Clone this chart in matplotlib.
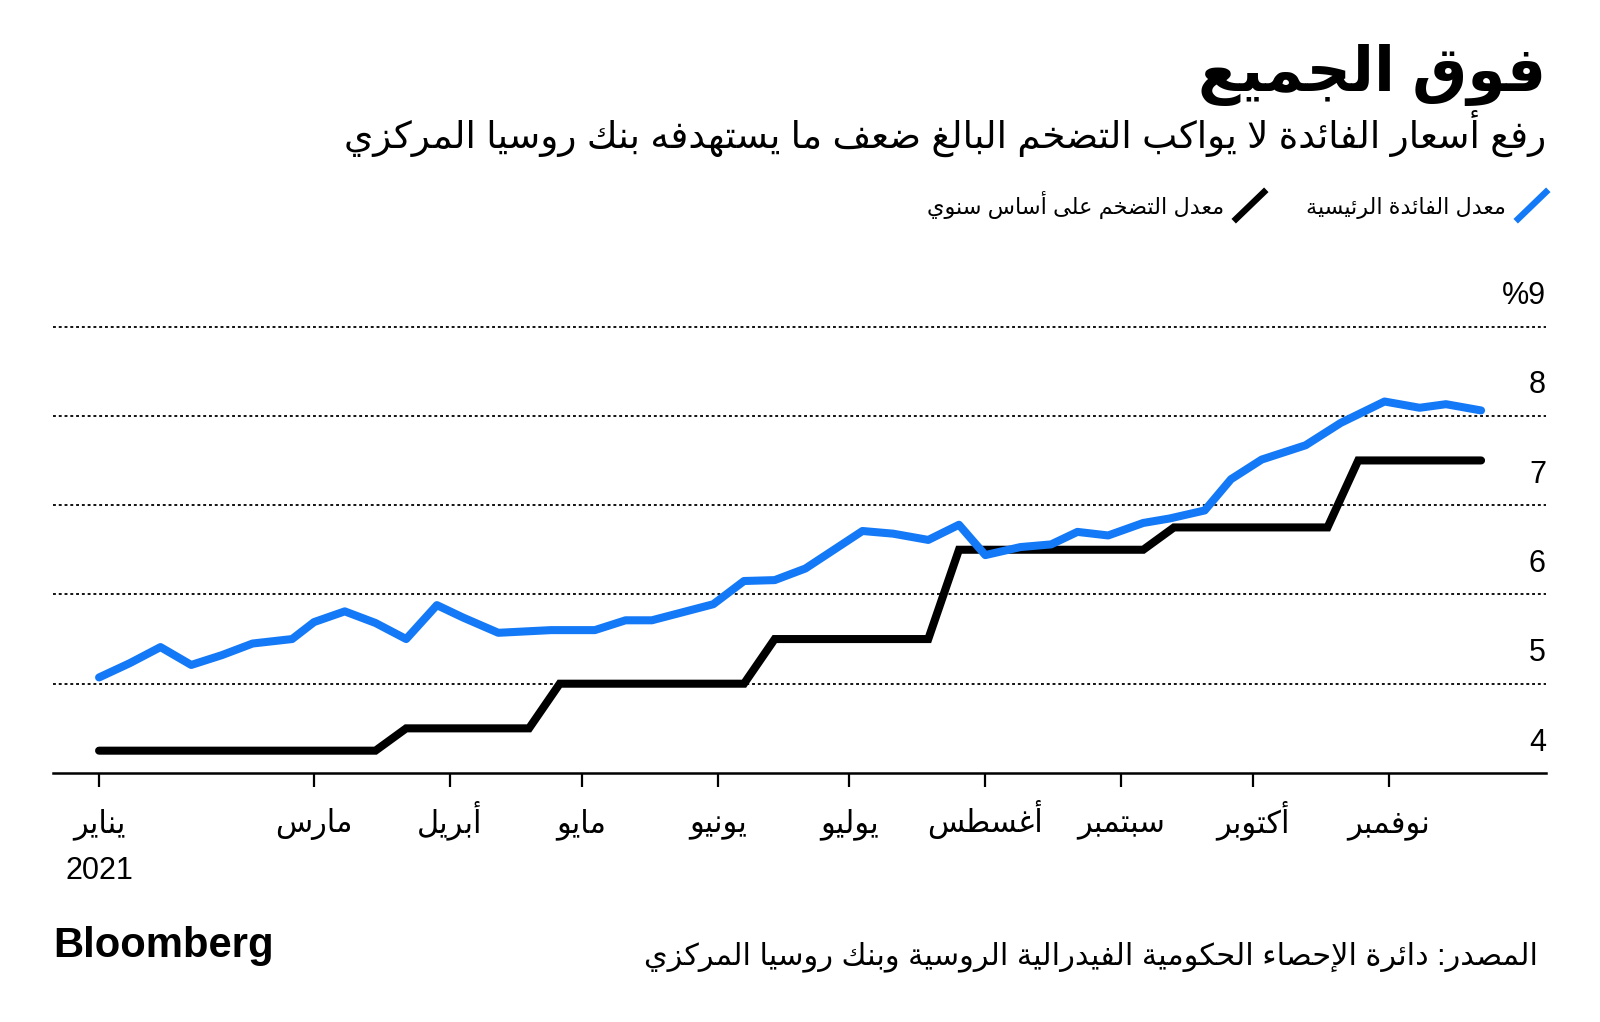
import pandas as pd
import matplotlib
matplotlib.use('Agg')
import matplotlib.pyplot as plt
import matplotlib.dates as mdates
from matplotlib.lines import Line2D

# blue line (legend: key rate), irregular weekly readings
key_rate_dates = ['2021-01-11', '2021-01-18', '2021-01-25', '2021-02-01', '2021-02-08', '2021-02-15',
                  '2021-02-24', '2021-03-01', '2021-03-08', '2021-03-15', '2021-03-22', '2021-03-29',
                  '2021-04-04', '2021-04-12', '2021-04-24', '2021-05-04', '2021-05-11', '2021-05-17',
                  '2021-05-31', '2021-06-07', '2021-06-14', '2021-06-21', '2021-07-04', '2021-07-11',
                  '2021-07-19', '2021-07-26', '2021-08-01', '2021-08-09', '2021-08-16', '2021-08-22',
                  '2021-08-29', '2021-09-06', '2021-09-12', '2021-09-20', '2021-09-26', '2021-10-03',
                  '2021-10-13', '2021-10-21', '2021-10-31', '2021-11-08', '2021-11-14', '2021-11-22']
key_rate_values = [5.07, 5.23, 5.41, 5.21, 5.32, 5.45, 5.50, 5.69, 5.81, 5.68, 5.50, 5.88,
                   5.74, 5.57, 5.60, 5.60, 5.71, 5.71, 5.89, 6.15, 6.16, 6.29, 6.71, 6.68,
                   6.61, 6.78, 6.44, 6.53, 6.56, 6.70, 6.66, 6.80, 6.85, 6.94, 7.29, 7.51,
                   7.67, 7.92, 8.16, 8.09, 8.13, 8.06]

# black line (legend: yoy inflation), weekly from 11 Jan
inflation_start = '2021-01-11'
inflation_values = [4.25, 4.25, 4.25, 4.25, 4.25, 4.25, 4.25, 4.25, 4.25, 4.25,
                    4.5, 4.5, 4.5, 4.5, 4.5,
                    5.0, 5.0, 5.0, 5.0, 5.0, 5.0, 5.0,
                    5.5, 5.5, 5.5, 5.5, 5.5, 5.5,
                    6.5, 6.5, 6.5, 6.5, 6.5, 6.5, 6.5,
                    6.75, 6.75, 6.75, 6.75, 6.75, 6.75,
                    7.5, 7.5, 7.5, 7.5, 7.5]

y_ticks = [4, 5, 6, 7, 8, 9]
y_labels = ['4', '5', '6', '7', '8', '%9']
x_tick_dates = ['2021-01-11', '2021-03-01', '2021-04-01', '2021-05-01', '2021-06-01',
                '2021-07-01', '2021-08-01', '2021-09-01', '2021-10-01', '2021-11-01']
x_tick_names = ['يناير', 'مارس', 'أبريل', 'مايو', 'يونيو', 'يوليو', 'أغسطس', 'سبتمبر', 'أكتوبر', 'نوفمبر']
first_year = '2021'

title = 'فوق الجميع'
subtitle = 'رفع أسعار الفائدة لا يواكب التضخم البالغ ضعف ما يستهدفه بنك روسيا المركزي'
legend_blue = 'معدل الفائدة الرئيسية'
legend_black = 'معدل التضخم على أساس سنوي'
source = 'المصدر: دائرة الإحصاء الحكومية الفيدرالية الروسية وبنك روسيا المركزي'

BLUE = '#1479f6'

# minimal arabic shaping: presentation forms + right-to-left order
FORMS = {}
_cp = 0xFE80
for _ch, _n in [('ء', 1), ('آ', 2), ('أ', 2), ('ؤ', 2), ('إ', 2), ('ئ', 4), ('ا', 2), ('ب', 4),
                ('ة', 2), ('ت', 4), ('ث', 4), ('ج', 4), ('ح', 4), ('خ', 4), ('د', 2), ('ذ', 2),
                ('ر', 2), ('ز', 2), ('س', 4), ('ش', 4), ('ص', 4), ('ض', 4), ('ط', 4), ('ظ', 4),
                ('ع', 4), ('غ', 4), ('ف', 4), ('ق', 4), ('ك', 4), ('ل', 4), ('م', 4), ('ن', 4),
                ('ه', 4), ('و', 2), ('ى', 2), ('ي', 4)]:
    FORMS[_ch] = (_cp, _n)
    _cp += _n
LAM_ALEF = {'آ': 0xFEF5, 'أ': 0xFEF7, 'إ': 0xFEF9, 'ا': 0xFEFB}


def shape(text):
    def joins(c):
        return c in FORMS and FORMS[c][1] > 1

    def dual(c):
        return c in FORMS and FORMS[c][1] == 4

    out = []
    prev = None
    i = 0
    while i < len(text):
        c = text[i]
        if c not in FORMS:
            out.append(c)
            prev = None
            i += 1
            continue
        join_prev = prev is not None and dual(prev) and joins(c)
        if c == 'ل' and i + 1 < len(text) and text[i + 1] in LAM_ALEF:
            out.append(chr(LAM_ALEF[text[i + 1]] + (1 if join_prev else 0)))
            prev = 'ا'
            i += 2
            continue
        nxt = text[i + 1] if i + 1 < len(text) else None
        join_next = dual(c) and nxt is not None and joins(nxt)
        start, k = FORMS[c]
        if k == 1:
            form = 0
        elif join_prev and join_next:
            form = 3
        elif join_prev:
            form = 1
        elif join_next:
            form = 2
        else:
            form = 0
        out.append(chr(start + form))
        prev = c
        i += 1
    return ''.join(reversed(out))


FONT = ['Liberation Sans', 'DejaVu Sans']
plt.rcParams['font.family'] = FONT

W, H = 1600, 1022
fig = plt.figure(figsize=(W / 100, H / 100), dpi=100)
renderer = fig.canvas.get_renderer()


def px(x, y):
    return x / W, 1 - y / H


def fig_text(x, y, s, width=None, **kw):
    t = fig.text(*px(x, y), s, **kw)
    if width is not None:
        bb = t.get_window_extent(renderer)
        t.set_fontsize(t.get_fontsize() * width / bb.width)
    return t


# axes: x 53..1546 px, y 326.5 (9%) .. 773 (4%)
ax = fig.add_axes([53 / W, 1 - 773 / H, (1546 - 53) / W, (773 - 326.5) / H])

jan1 = mdates.date2num(pd.Timestamp('2021-01-01'))
ax.set_xlim(jan1 - 0.5, jan1 + 339.8)
ax.set_ylim(4, 9)

for v in y_ticks[1:]:
    ax.axhline(v, color='black', lw=1.3, ls=(0, (1.6, 1.6)), zorder=1, clip_on=False)

inflation_dates = pd.date_range(inflation_start, periods=len(inflation_values), freq='7D')
ax.plot(inflation_dates, inflation_values, color='black', lw=5.8,
        solid_capstyle='round', solid_joinstyle='miter', zorder=3, clip_on=False)
ax.plot(pd.to_datetime(key_rate_dates), key_rate_values, color=BLUE, lw=5.8,
        solid_capstyle='round', solid_joinstyle='round', zorder=4, clip_on=False)

for s in ['top', 'right', 'left']:
    ax.spines[s].set_visible(False)
ax.spines['bottom'].set_linewidth(1.8)
ax.set_yticks([])

# month labels on a shared baseline under the ticks
tick_nums = mdates.date2num(pd.to_datetime(x_tick_dates))
ax.set_xticks(tick_nums)
ax.set_xticklabels([])
ax.tick_params(axis='x', direction='out', length=10, width=1.6)
for d, name in zip(tick_nums, x_tick_names):
    ax.annotate(shape(name), xy=(d, 0), xycoords=ax.get_xaxis_transform(),
                xytext=(0, -42.5), textcoords='offset points', ha='center',
                va='baseline', fontsize=22)
ax.annotate(first_year, xy=(tick_nums[0], 0), xycoords=ax.get_xaxis_transform(),
            xytext=(0, -76), textcoords='offset points', ha='center',
            va='baseline', fontsize=22)

for v, lab in zip(y_ticks, y_labels):
    ax.text(1.0, v + 0.25, lab, transform=ax.get_yaxis_transform(), ha='right',
            va='baseline', fontsize=22)

# header
fig_text(1546, 91, shape(title), width=348, ha='right', va='baseline',
         fontsize=40, fontweight='bold')
fig_text(1546, 148, shape(subtitle), width=1207, ha='right', va='baseline', fontsize=24)

# legend
fig.add_artist(Line2D([1518 / W, 1546 / W], [1 - 219 / H, 1 - 192 / H], color=BLUE, lw=4.6))
fig_text(1506, 214, shape(legend_blue), width=200, ha='right', va='baseline', fontsize=16)
fig.add_artist(Line2D([1236 / W, 1264 / W], [1 - 219 / H, 1 - 192 / H], color='black', lw=4.6))
fig_text(1224, 214, shape(legend_black), width=297, ha='right', va='baseline', fontsize=16)

# footer
fig_text(53, 957, 'Bloomberg', width=220, ha='left', va='baseline', fontsize=30,
         fontweight='bold')
fig_text(1538, 964, shape(source), width=893, ha='right', va='baseline', fontsize=20)

fig.savefig('out.png', dpi=100, facecolor='white')
